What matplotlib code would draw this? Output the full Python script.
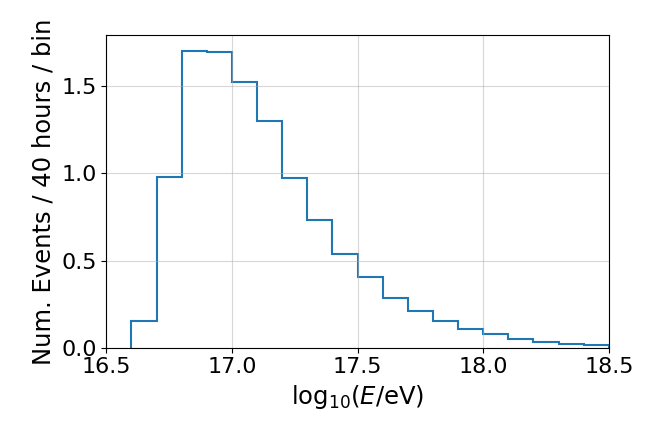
import matplotlib
matplotlib.use("Agg")
import matplotlib.pyplot as plt

# bin edges in log10(E/eV) and events per bin
edges = [16.6, 16.7, 16.8, 16.9, 17.0, 17.1, 17.2, 17.3, 17.4, 17.5,
         17.6, 17.7, 17.8, 17.9, 18.0, 18.1, 18.2, 18.3, 18.4, 18.5]
counts = [0.152, 0.981, 1.698, 1.695, 1.521, 1.297, 0.975, 0.735, 0.539,
          0.405, 0.287, 0.211, 0.152, 0.108, 0.077, 0.050, 0.035, 0.022,
          0.016]

plt.rcParams["font.size"] = 16

fig, ax = plt.subplots(figsize=(6.64, 4.43), dpi=100)
ax.stairs(counts, edges, color="C0", linewidth=1.5)
ax.set_xlim(16.5, 18.5)
ax.set_ylim(0, 1.79)
ax.set_xticks([16.5, 17.0, 17.5, 18.0, 18.5])
ax.set_yticks([0.0, 0.5, 1.0, 1.5])
ax.grid(alpha=0.5)
ax.set_xlabel(r"log$_{10}$($E$/eV)", fontsize=17.5)
ax.set_ylabel("Num. Events / 40 hours / bin", fontsize=17.5)
fig.subplots_adjust(left=0.16, right=0.917, top=0.92, bottom=0.215)
fig.savefig("out.png", dpi=100)
